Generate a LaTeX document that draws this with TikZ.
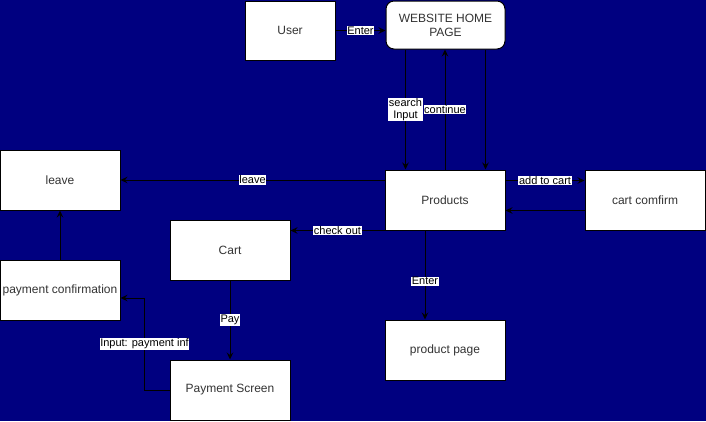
\documentclass[tikz,border=0pt]{standalone}
\usepackage{fontspec}
\setmainfont{Liberation Sans}
\usetikzlibrary{positioning,shapes,arrows.meta}
\definecolor{navy}{HTML}{000080}
\definecolor{boxtext}{HTML}{333333}
\tikzset{
    %Define standard arrow tip
    >={Stealth[length=7pt,width=6.5pt,inset=2.5pt]},
    %Define style for boxes
    boks/.style={
           rectangle,
           draw=black, line width=1pt,
           fill=white,
           text=boxtext,
           minimum width=120pt,
           minimum height=60pt,
           inner sep=1pt,
           font=\fontsize{12}{14}\selectfont,
           align=center},
    % Define arrow style
    pil/.style={
           ->,
           line width=1pt},
    % Define style for arrow labels
    merke/.style={
           fill=white,
           text=black,
           inner sep=0.6pt,
           font=\fontsize{11}{12.5}\selectfont,
           align=center}
}

\begin{document}
\begin{tikzpicture}[x=1pt,y=-1pt]
\fill[navy] (0,0) rectangle (706,421);
\useasboundingbox (0,0) rectangle (706,421);
\node [boks,minimum width=90pt,minimum height=59pt] (user) at (290,30.5) {User};
\node [boks,rounded corners=8pt,minimum width=119pt,minimum height=48pt] (home) at (445.5,25) {WEBSITE HOME\\PAGE};
\node [boks] (prod) at (445,200) {Products};
\node [boks] (confirm) at (645,200.5) {cart comfirm};
\node [boks] (leave) at (60,180) {leave};
\node [boks] (cart) at (230,250) {Cart};
\node [boks] (payconf) at (60,290) {payment confirmation};
\node [boks] (payscr) at (230,390) {Payment Screen};
\node [boks] (ppage) at (445,350) {product page};
% from user to products
\draw [pil] (user.east) -- (user.east -| home.west) node[merke,midway] {Enter};
\draw [pil] ([xshift=-40pt]home.south) -- ([xshift=-40pt]home.south |- prod.north) node[merke,midway] {search\\Input};
\draw [pil] (prod.north) -- (prod.north |- home.south) node[merke,midway] {continue};
\draw [pil] ([xshift=40pt]home.south) -- ([xshift=40pt]home.south |- prod.north);
% from products
\draw [pil] ([yshift=20pt]prod.west) -- ([yshift=20pt]prod.west -| leave.east) node[merke,midway] {leave};
\draw [pil] ([yshift=19.5pt]prod.east) -- ([yshift=19.5pt]prod.east -| confirm.west) node[merke,midway] {add to cart};
\draw [pil] ([yshift=-10pt]confirm.west) -- ([yshift=-10pt]confirm.west -| prod.east);
\draw [pil] (prod.south west) -- (prod.south west -| cart.east) node[merke,midway] {check out};
\draw [pil] ([xshift=-20pt]prod.south) -- ([xshift=-20pt]prod.south |- ppage.north) node[merke,pos=0.57] {Enter};
% payment
\draw [pil] (cart.south) -- (payscr.north) node[merke,midway] {Pay};
\draw [pil] (payscr.west) -- ++(-25pt,0) |- ([yshift=-8pt]payconf.east) node[merke,pos=0.25] {Input: payment inf};
\draw [pil] (payconf.north) -- (leave.south);
\end{tikzpicture}
\end{document}
